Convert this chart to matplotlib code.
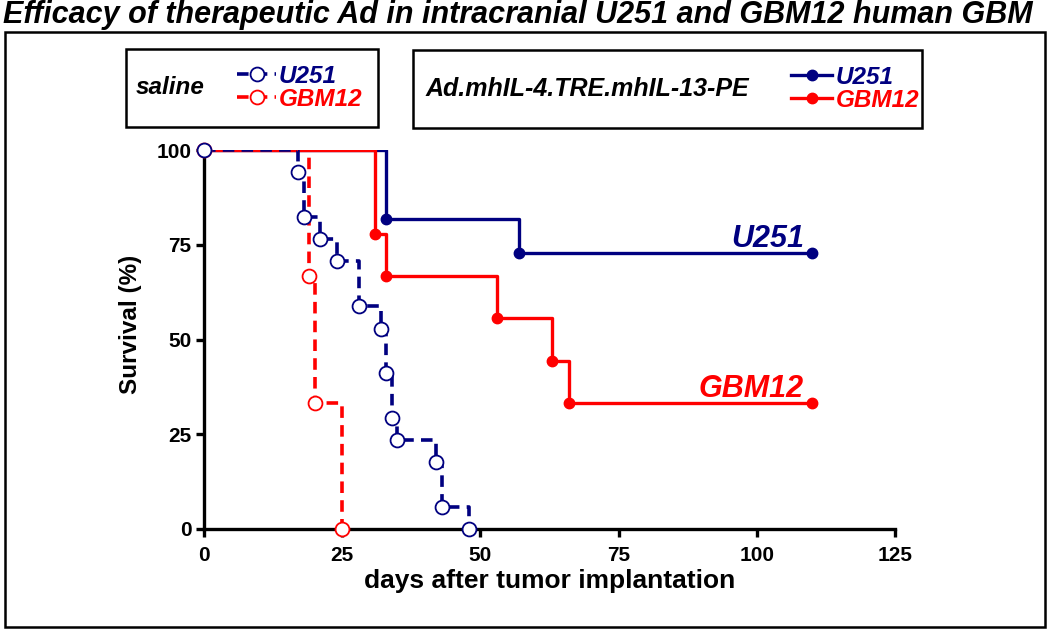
import numpy as np
import matplotlib
matplotlib.use("Agg")
from matplotlib import pyplot as plt
from matplotlib.patches import Rectangle

# Kaplan-Meier data: (days, survival %)
sal_u251_t = [0, 17, 18, 21, 24, 28, 32, 33, 34, 35, 42, 43, 48]
sal_u251_s = [100, 94.1, 82.4, 76.5, 70.6, 58.8, 52.9, 41.2, 29.4, 23.5, 17.6, 5.9, 0]
sal_gbm_t = [0, 19, 20, 25]
sal_gbm_s = [100, 66.7, 33.3, 0]
trt_u251_t = [0, 33, 57, 110]
trt_u251_s = [100, 81.8, 72.7, 72.7]
trt_gbm_t = [0, 31, 33, 53, 63, 66, 110]
trt_gbm_s = [100, 77.8, 66.7, 55.6, 44.4, 33.3, 33.3]

xticks = [0, 25, 50, 75, 100, 125]
yticks = [0, 25, 50, 75, 100]

NAVY = "#000080"
RED = "#ff0000"
plt.rcParams["font.family"] = ["Liberation Sans", "DejaVu Sans"]

fig = plt.figure(figsize=(10.5, 6.31), dpi=100)
ax = fig.add_axes([204/1050, 1-529/631, 691/1050, 379/631])

def km(t, s, color, dashed, filled, start_marker):
    # step line clipped at the axes like the original, markers left unclipped
    if dashed:
        line, = ax.step(t, s, where="post", color=color, lw=2.6, ls="--",
                        dashes=(3.2, 2.0))
    else:
        line, = ax.step(t, s, where="post", color=color, lw=2.4)
    i0 = 0 if start_marker else 1
    if filled:
        ax.plot(t[i0:], s[i0:], "o", color=color, ms=7.5, clip_on=False, zorder=4)
    else:
        ax.plot(t[i0:], s[i0:], "o", mfc="white", mec=color, mew=1.3, ms=10,
                clip_on=False, zorder=5)
    return line

l_tu = km(trt_u251_t, trt_u251_s, NAVY, False, True, False)
l_tg = km(trt_gbm_t, trt_gbm_s, RED, False, True, False)
l_sg = km(sal_gbm_t, sal_gbm_s, RED, True, False, True)
l_su = km(sal_u251_t, sal_u251_s, NAVY, True, False, True)

ax.set_xlim(0, 125)
ax.set_ylim(0, 100)
ax.set_xticks(xticks)
ax.set_yticks(yticks)
for sp in ["top", "right"]:
    ax.spines[sp].set_visible(False)
for sp in ["left", "bottom"]:
    ax.spines[sp].set_linewidth(2.4)
ax.tick_params(direction="out", length=6, width=2.4, labelsize=15, pad=3)
ax.tick_params(axis="x", pad=6)
for lab in ax.get_xticklabels() + ax.get_yticklabels():
    lab.set_fontweight("bold")
ax.set_xlabel("days after tumor implantation", fontsize=19, fontweight="bold", labelpad=3)
ax.set_ylabel("Survival (%)", fontsize=17.5, fontweight="bold")
ax.yaxis.set_label_coords(-0.09, 0.54)

ax.text(108.5, 74.5, "U251", color=NAVY, fontsize=22, fontweight="bold",
        fontstyle="italic", ha="right", va="baseline")
ax.text(108.5, 34.8, "GBM12", color=RED, fontsize=22, fontweight="bold",
        fontstyle="italic", ha="right", va="baseline")

def fx(px):
    return px/1050
def fy(py):
    return 1-py/631

# title and outer frame
fig.text(fx(3), fy(15), "Efficacy of therapeutic Ad in intracranial U251 and GBM12 human GBM",
         fontsize=22, fontweight="bold", fontstyle="italic", ha="left", va="center")
fig.patches.append(Rectangle((fx(5), fy(627)), fx(1045)-fx(5), fy(32)-fy(627),
                             transform=fig.transFigure, fill=False, lw=1.8, ec="black"))

# legend boxes
fig.patches.append(Rectangle((fx(126), fy(127)), fx(378)-fx(126), fy(49)-fy(127),
                             transform=fig.transFigure, fill=False, lw=1.8, ec="black"))
fig.patches.append(Rectangle((fx(413), fy(128)), fx(922)-fx(413), fy(50)-fy(128),
                             transform=fig.transFigure, fill=False, lw=1.8, ec="black"))
fig.text(fx(136), fy(88), "saline", fontsize=17.5, fontweight="bold", fontstyle="italic",
         ha="left", va="center")
fig.text(fx(426), fy(89), "Ad.mhIL-4.TRE.mhIL-13-PE", fontsize=18, fontweight="bold",
         fontstyle="italic", ha="left", va="center")

lprop = dict(size=17.5, weight="bold", style="italic")
leg1 = fig.legend([l_su, l_sg], ["U251", "GBM12"], loc="center left",
                  bbox_to_anchor=(fx(225), fy(88)), frameon=False, prop=lprop,
                  labelcolor="linecolor", handlelength=1.6, handletextpad=0.12,
                  labelspacing=0.0, borderpad=0)
for h, l in zip(leg1.legend_handles, [l_su, l_sg]):
    h.set_marker("o"); h.set_markerfacecolor("white"); h.set_markeredgecolor(l.get_color())
    h.set_markersize(10); h.set_markeredgewidth(1.3)
leg2 = fig.legend([l_tu, l_tg], ["U251", "GBM12"], loc="center left",
                  bbox_to_anchor=(fx(779), fy(89)), frameon=False, prop=lprop,
                  labelcolor="linecolor", handlelength=1.7, handletextpad=0.12,
                  labelspacing=0.0, borderpad=0)
for h, l in zip(leg2.legend_handles, [l_tu, l_tg]):
    h.set_marker("o"); h.set_markerfacecolor(l.get_color()); h.set_markeredgecolor(l.get_color())
    h.set_markersize(7.5)

fig.savefig("out.png", dpi=100)
